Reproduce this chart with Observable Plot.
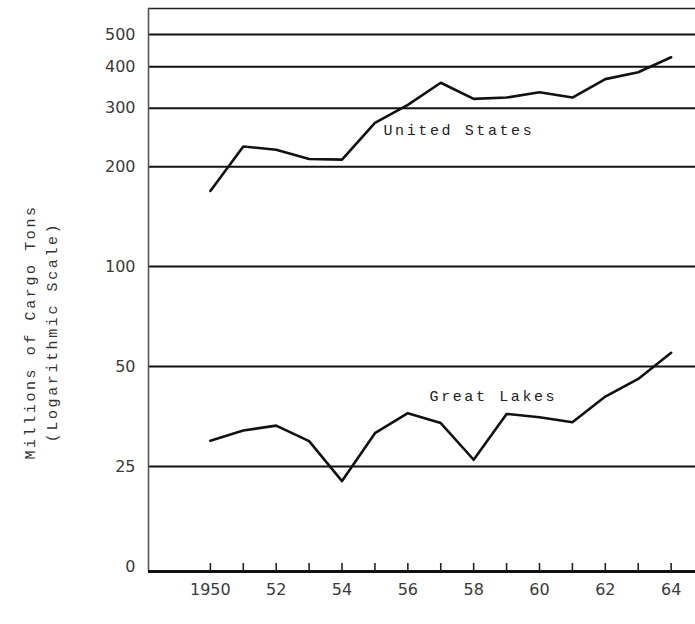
<!DOCTYPE html>
<html>
<head>
<meta charset="utf-8">
<script src="https://cdn.jsdelivr.net/npm/d3@7"></script>
<script src="https://cdn.jsdelivr.net/npm/@observablehq/plot@0.6"></script>
<style>
  html, body { margin: 0; padding: 0; background: #fff; }
  #chart { width: 695px; height: 624px; }
</style>
</head>
<body>
<div id="chart"></div>
<script>
const years = [1950, 1951, 1952, 1953, 1954, 1955, 1956, 1957, 1958, 1959, 1960, 1961, 1962, 1963, 1964];
const unitedStates = [169, 230, 225, 211, 210, 271, 307, 358, 320, 323, 335, 323, 367, 385, 427];
const greatLakes = [29.9, 32.1, 33.2, 29.8, 22.6, 31.5, 36.2, 33.8, 26.2, 36.0, 35.2, 34.0, 40.6, 45.9, 55.0];
const yTickValues = [12.5, 25, 50, 100, 200, 300, 400, 500];
const yTickLabels = ["0", "25", "50", "100", "200", "300", "400", "500"];
const xLabelYears = [1950, 1952, 1954, 1956, 1958, 1960, 1962, 1964];
const xLabelText = ["1950", "52", "54", "56", "58", "60", "62", "64"];
const seriesNames = ["United States", "Great Lakes"];
const seriesLabelAt = [{x: 1955.26, y: 258}, {x: 1956.66, y: 40.6}];
const yTitle = ["Millions of Cargo Tons", "(Logarithmic Scale)"];

const yMin = 12.07, yMax = 599;
const xMin = 1948.12, xMax = 1964.74;

const rows = [];
years.forEach((yr, i) => {
  rows.push({series: seriesNames[0], year: yr, value: unitedStates[i]});
  rows.push({series: seriesNames[1], year: yr, value: greatLakes[i]});
});
const gridVals = yTickValues.slice(1);
const labels = seriesNames.map((s, i) => ({name: s, x: seriesLabelAt[i].x, y: seriesLabelAt[i].y}));
const mono = "'Liberation Mono', 'DejaVu Sans Mono', monospace";
const tickFont = "'DejaVu Sans', sans-serif";

const chart = Plot.plot({
  width: 695,
  height: 624,
  marginLeft: 148,
  marginRight: 0,
  marginTop: 8,
  marginBottom: 53,
  style: {background: "#fff", color: "#222"},
  x: {type: "linear", domain: [xMin, xMax]},
  y: {type: "log", domain: [yMin, yMax]},
  marks: [
    Plot.ruleY(gridVals, {stroke: "#111", strokeWidth: 2}),
    Plot.ruleY([yMax], {stroke: "#222", strokeWidth: 1.6}),
    Plot.ruleX([xMin], {stroke: "#555", strokeWidth: 1.6}),
    Plot.ruleY([yMin], {stroke: "#111", strokeWidth: 3}),
    Plot.ruleX(years, {y1: yMin, y2: yMin * Math.pow(2, 0.08), stroke: "#222", strokeWidth: 1.6}),
    Plot.line(rows, {x: "year", y: "value", z: "series", stroke: "#111", strokeWidth: 2.6, strokeLinejoin: "round"}),
    Plot.text(labels, {x: "x", y: "y", text: "name", textAnchor: "start", fontFamily: mono, fontSize: 15, fill: "#222"}),
    Plot.axisY({ticks: yTickValues, tickFormat: (d) => yTickLabels[yTickValues.indexOf(d)], tickSize: 0, tickPadding: 13, fontSize: 16, fontFamily: tickFont, fill: "#3a3a3a", label: null}),
    Plot.axisX({ticks: xLabelYears, tickFormat: (d) => xLabelText[xLabelYears.indexOf(d)], tickSize: 0, tickPadding: 12, fontSize: 16, fontFamily: tickFont, fill: "#3a3a3a", label: null}),
    Plot.text([yTitle[0]], {frameAnchor: "left", textAnchor: "middle", rotate: -90, dx: -118, dy: 42, fontFamily: mono, fontSize: 15, fill: "#333"}),
    Plot.text([yTitle[1]], {frameAnchor: "left", textAnchor: "middle", rotate: -90, dx: -96, dy: 42, fontFamily: mono, fontSize: 15, fill: "#333"})
  ]
});
d3.select(chart).selectAll('g[aria-label="text"]').attr("letter-spacing", "2.6px").selectAll("text").attr("letter-spacing", "2.6px");
document.getElementById("chart").appendChild(chart);
</script>
</body>
</html>
